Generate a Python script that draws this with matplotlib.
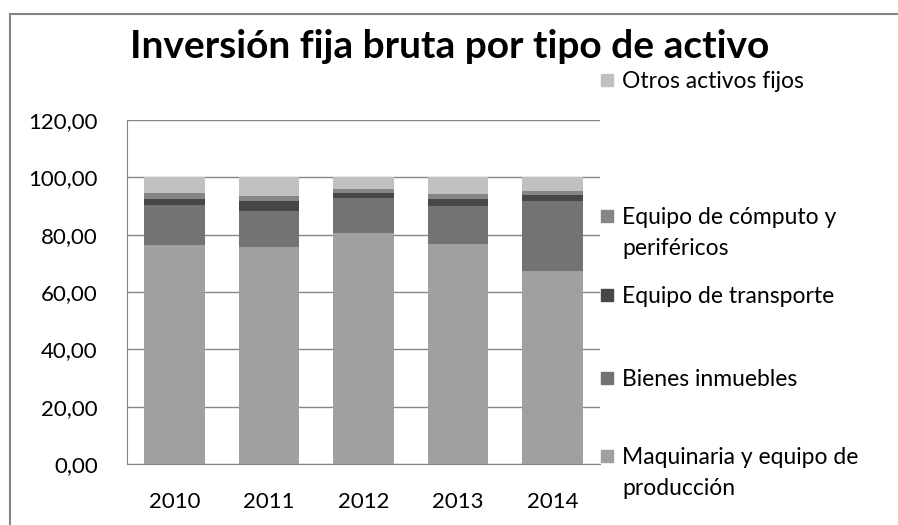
import numpy as np
import matplotlib
matplotlib.use("Agg")
import matplotlib.pyplot as plt
from matplotlib.patches import Rectangle
from matplotlib.lines import Line2D

plt.rcParams['font.family'] = ['Lato', 'DejaVu Sans']

years = ['2010', '2011', '2012', '2013', '2014']
maquinaria = [76.5, 75.7, 80.5, 76.9, 67.4]
bienes = [13.9, 12.6, 12.3, 13.0, 24.3]
transporte = [2.2, 3.4, 1.8, 2.5, 2.0]
computo = [2.0, 1.9, 1.4, 1.9, 1.4]
otros = [5.4, 6.4, 4.0, 5.7, 4.9]

series = [
    ('Maquinaria y equipo de\nproducción', maquinaria, '#a0a0a0'),
    ('Bienes inmuebles', bienes, '#737373'),
    ('Equipo de transporte', transporte, '#474747'),
    ('Equipo de cómputo y\nperiféricos', computo, '#868686'),
    ('Otros activos fijos', otros, '#c0c0c0'),
]

W, H = 898, 525
fig = plt.figure(figsize=(W / 100, H / 100), dpi=100)
ax = fig.add_axes([127 / W, (H - 464) / H, 473 / W, 344 / H])

x = np.arange(len(years))
bottom = np.zeros(len(years))
for name, vals, col in series:
    ax.bar(x, vals, 0.64, bottom=bottom, color=col, edgecolor='none', zorder=3)
    bottom += np.array(vals)

ax.set_xlim(-0.5, len(years) - 0.5)
ax.set_ylim(0, 120)
ax.set_yticks(np.arange(0, 121, 20))
ax.set_yticklabels([f'{v:.2f}'.replace('.', ',') for v in np.arange(0, 121, 20)], fontsize=16)
ax.set_xticks(x)
ax.set_xticklabels(years, fontsize=16)
ax.grid(axis='y', color='#868686', linewidth=1, zorder=0)
for s in ['top', 'right']:
    ax.spines[s].set_visible(False)
for s in ['left', 'bottom']:
    ax.spines[s].set_color('#868686')
ax.tick_params(axis='y', length=0, pad=21)
ax.tick_params(axis='x', length=0, pad=20)

fig.text(450 / W, 1 - 46 / H, 'Inversión fija bruta por tipo de activo',
         ha='center', va='center', fontsize=28, fontweight='bold')

# legend drawn by hand, Excel-style spacing
leg_y = [80, 216, 295, 378, 456]
for (name, vals, col), yy in zip(series[::-1], leg_y):
    fig.patches.append(Rectangle((601 / W, 1 - (yy + 6) / H), 12 / W, 12 / H,
                                 transform=fig.transFigure, color=col))
    fig.text(622 / W, 1 - (yy - 9) / H, name, ha='left', va='top',
             fontsize=16.5, linespacing=1.6)

# chart border (top and left edges visible)
fig.add_artist(Line2D([10 / W, 1], [1 - 14 / H, 1 - 14 / H], transform=fig.transFigure,
                      color='#868686', linewidth=1.5))
fig.add_artist(Line2D([10 / W, 10 / W], [0, 1 - 14 / H], transform=fig.transFigure,
                      color='#868686', linewidth=1.5))

fig.savefig('out.png', dpi=100)
